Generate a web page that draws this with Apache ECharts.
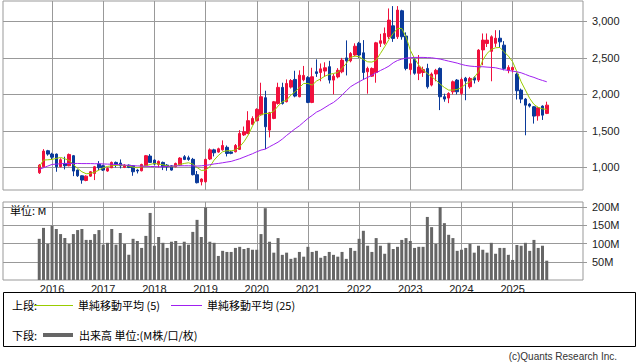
<!DOCTYPE html>
<html><head><meta charset="utf-8">
<script src="https://cdn.jsdelivr.net/npm/echarts@6/dist/echarts.min.js"></script>
<style>html,body{margin:0;padding:0;background:#fff}#c{width:638px;height:362px}</style>
</head><body><div id="c"></div>
<script>
// first candle month and empty slots at both ends of the time axis
const firstYear = 2015, firstMonth = 10;
const padBefore = 8, padAfter = 8;
const yearTicks = ['2016','2017','2018','2019','2020','2021','2022','2023','2024','2025'];

const opens = [926,1008,1228,1182,1182,1010,1054,1022,1160,963,885,820,880,917,1045,1022,950,995,1068,1060,
1000,1031,1022,963,954,1022,1155,1100,1040,1068,1031,1022,1008,1031,1146,1132,1110,900,803,803,
1115,1240,1210,1240,1275,1212,1214,1246,1445,1465,1590,1640,1720,1955,1511,1671,1876,2096,1900,2100,
2205,1968,2200,2230,1890,2310,2300,2320,2380,2196,2240,2310,2500,2460,2540,2700,2570,2310,2250,2300,
2700,2700,2790,2940,2790,3146,2800,2340,2480,2290,2300,2356,2128,2280,2356,1968,1950,2036,2196,2013,
2223,2105,2228,2196,2610,2698,2590,2700,2770,2675,2330,2335,2278,2059,1936,1867,1831,1707,1840,1740];
const closes = [1031,1223,1182,1140,1008,1105,1022,1177,949,885,826,880,940,1008,995,963,985,1068,1045,1022,
1031,1000,940,950,1040,1160,1068,1045,1082,1008,1008,963,1054,1127,1109,1109,900,790,840,1109,
1240,1200,1255,1300,1190,1192,1300,1465,1488,1640,1670,1795,1968,1557,1748,1899,2096,1876,2150,2190,
1977,2264,2260,1890,2242,2287,2350,2365,2196,2250,2330,2470,2460,2560,2660,2540,2300,2356,2356,2707,
2735,2835,3018,2767,3155,2790,2356,2420,2290,2375,2340,2105,2278,2330,1968,1936,2013,2173,2036,2205,
2182,2219,2196,2607,2744,2744,2790,2770,2720,2356,2370,2370,2050,1936,1853,1840,1703,1817,1716,1853];
const lows = [910,1000,1160,1110,940,1000,972,1015,880,870,776,810,870,826,963,950,940,990,1000,986,
990,990,885,917,945,1015,1060,1035,1000,963,954,955,1000,1020,1100,1090,890,780,753,790,
1100,1150,1200,1230,1150,1180,1205,1240,1430,1455,1580,1630,1710,1250,1410,1660,1860,1860,1890,2080,
1960,1960,2180,1880,1880,2240,2180,2240,2150,2000,2220,2290,2260,2440,2520,2500,2200,2010,2240,2160,
2650,2680,2760,2720,2760,2750,2330,2270,2270,2196,2240,2080,2110,2180,1785,1900,1880,2000,2000,1990,
1920,2080,2150,2170,2400,2650,2180,2650,2640,2330,2290,2300,1930,1880,1440,1820,1600,1640,1650,1730];
const highs = [1045,1250,1240,1200,1190,1125,1146,1190,1170,970,890,890,950,1020,1086,1035,1000,1080,1080,1109,
1045,1040,1030,975,1050,1170,1182,1110,1095,1080,1045,1030,1065,1140,1168,1160,1130,950,850,1120,
1260,1255,1270,1370,1300,1225,1320,1510,1560,1770,1700,1810,2160,2050,1760,1910,2160,2160,2205,2210,
2324,2330,2390,2250,2365,2480,2424,2440,2460,2280,2360,2500,2740,2580,2700,2720,2744,2380,2370,2720,
2830,2917,3178,3210,3210,3160,2850,2490,2500,2540,2380,2420,2300,2350,2370,2010,2030,2190,2210,2230,
2240,2240,2250,2620,2835,2835,2810,2880,2880,2730,2400,2380,2300,2080,1950,1880,1840,1830,1850,1900];
const volumes = [113,143,99,149,140,126,115,99,126,137,140,110,110,126,137,97,102,140,97,129,
99,69,113,107,88,121,184,94,118,102,88,105,107,94,105,97,132,165,118,199,
105,102,66,80,77,77,88,91,85,88,83,83,126,197,105,75,115,69,75,58,
61,77,64,91,77,80,61,66,77,69,64,77,58,88,80,113,135,94,77,115,
94,72,102,85,91,110,115,107,88,91,91,173,145,99,200,156,124,115,80,83,
88,99,75,94,83,75,102,72,88,88,69,55,96,94,102,80,110,88,94,53];
const ma5 = [1008,1100,1104,1109,1123,1136,1118,1095,1040,986,940,913,917,935,963,995,1013,1022,1027,1031,
1027,1018,1004,995,1008,1022,1040,1054,1045,1036,1022,1008,1022,1040,1054,1063,1045,999,958,963,
1008,1100,1164,1214,1228,1228,1237,1283,1351,1442,1566,1671,1721,1739,1739,1771,1840,1899,1922,1990,
2036,2095,2150,2150,2127,2182,2214,2251,2274,2287,2301,2356,2424,2507,2525,2516,2479,2447,2443,2470,
2561,2653,2753,2835,2904,2904,2790,2607,2493,2401,2333,2287,2242,2196,2141,2095,2059,2059,2068,2095,
2141,2173,2233,2310,2470,2561,2616,2639,2643,2584,2525,2447,2310,2173,2059,1945,1863,1822,1803,1794];
const ma25 = [972,995,1018,1040,1045,1050,1054,1054,1054,1054,1052,1052,1052,1050,1050,1047,1045,1043,1040,1036,
1031,1027,1022,1020,1018,1015,1013,1011,1008,1008,1013,1018,1020,1022,1022,1022,1020,1018,1022,1027,
1036,1047,1054,1063,1073,1082,1100,1118,1141,1164,1187,1214,1237,1250,1283,1314,1346,1388,1438,1483,
1529,1570,1620,1671,1712,1757,1785,1821,1858,1890,1936,1990,2050,2105,2141,2173,2205,2233,2264,2296,
2328,2356,2388,2433,2465,2484,2497,2502,2507,2507,2507,2504,2502,2493,2484,2470,2456,2443,2429,2411,
2397,2388,2383,2379,2379,2374,2370,2365,2351,2338,2328,2319,2310,2296,2274,2251,2233,2210,2191,2173];
const priceTicks = [1000,1500,2000,2500,3000];
const volumeTicks = [50,100,150,200];

// month categories of the time axis
const months = [];
{
  let y = firstYear, m = firstMonth - padBefore;
  while (m < 1) { m += 12; y--; }
  const n = padBefore + opens.length + padAfter;
  for (let k = 0; k < n; k++) {
    months.push(y + '-' + String(m).padStart(2, '0'));
    m++; if (m > 12) { m = 1; y++; }
  }
}
const isYearTick = (i, v) => String(v).endsWith('-01') && yearTicks.indexOf(String(v).slice(0, 4)) >= 0;
const candleData = opens.map((o, i) => [i + padBefore, o, closes[i], lows[i], highs[i]]);
const volData = volumes.map((v, i) => [i + padBefore, v]);
const ma5Data = ma5.map((v, i) => [i + padBefore, v]);
const ma25Data = ma25.map((v, i) => [i + padBefore, v]);

const GRID = '#999';
const TXT = '#222';
const CJK = '"Noto Sans CJK JP", "Noto Sans", sans-serif';
const LAT = '"Liberation Sans", Arial, sans-serif';

const chart = echarts.init(document.getElementById('c'), null, {renderer: 'svg'});
const xBase = {
  type: 'category', data: months, boundaryGap: true,
  axisLine: {show: false}, axisTick: {show: false},
  splitLine: {show: true, alignWithLabel: true, interval: isYearTick, lineStyle: {color: GRID, width: 1}}
};
chart.setOption({
  animation: false,
  backgroundColor: '#fff',
  grid: [
    {left: 3, top: 1, width: 580, height: 189, show: true, borderColor: GRID, borderWidth: 1},
    {left: 3, top: 202, width: 580, height: 78, show: true, borderColor: GRID, borderWidth: 1}
  ],
  xAxis: [
    Object.assign({gridIndex: 0, axisLabel: {show: false}}, xBase),
    Object.assign({gridIndex: 1, axisLabel: {show: true, interval: isYearTick, formatter: v => v.slice(0, 4),
      color: TXT, fontSize: 11, fontFamily: LAT, margin: 3}}, xBase)
  ],
  yAxis: [
    {gridIndex: 0, type: 'value', position: 'right', min: 690, max: 3280, splitNumber: 5, scale: true,
     axisLine: {show: false},
     axisTick: {show: true, length: 4, customValues: priceTicks, lineStyle: {color: GRID}},
     axisLabel: {customValues: priceTicks, margin: 9,
       color: TXT, fontSize: 11, fontFamily: LAT,
       formatter: v => (priceTicks.indexOf(v) >= 0 ? v.toLocaleString('en-US') : '')},
     splitLine: {show: true, lineStyle: {color: GRID}}},
    {gridIndex: 1, type: 'value', position: 'right', min: 0, max: 214, splitNumber: 4,
     axisLine: {show: false},
     axisTick: {show: true, length: 4, customValues: volumeTicks, lineStyle: {color: GRID}},
     axisLabel: {customValues: volumeTicks, margin: 9,
       color: TXT, fontSize: 11, fontFamily: LAT,
       formatter: v => (volumeTicks.indexOf(v) >= 0 ? v + 'M' : '')},
     splitLine: {show: true, lineStyle: {color: GRID}}}
  ],
  series: [
    {type: 'candlestick', name: '株価', xAxisIndex: 0, yAxisIndex: 0, data: candleData,
     encode: {x: 0, y: [1, 2, 3, 4]}, barWidth: 3,
     itemStyle: {color: '#f0103c', color0: '#0a3a9a', borderColor: '#f0103c', borderColor0: '#0a3a9a', borderWidth: 1}},
    {type: 'line', name: '単純移動平均(5)', xAxisIndex: 0, yAxisIndex: 0, data: ma5Data,
     symbol: 'none', z: 5, lineStyle: {color: '#99cc00', width: 1}},
    {type: 'line', name: '単純移動平均(25)', xAxisIndex: 0, yAxisIndex: 0, data: ma25Data,
     symbol: 'none', z: 5, lineStyle: {color: '#a020f0', width: 1}},
    {type: 'bar', name: '出来高', xAxisIndex: 1, yAxisIndex: 1, data: volData, barWidth: 3,
     itemStyle: {color: '#666'}}
  ],
  graphic: [
    {type: 'text', left: 10, top: 204, style: {text: '単位: M', fill: '#000', font: '11px ' + CJK}},
    {type: 'rect', shape: {x: 3.5, y: 292.5, width: 632, height: 54}, style: {fill: 'none', stroke: '#000', lineWidth: 1}},
    {type: 'text', x: 12, y: 305, style: {text: '上段:', fill: '#000', font: '11px ' + CJK, verticalAlign: 'middle'}},
    {type: 'line', shape: {x1: 34, y1: 305.5, x2: 73, y2: 305.5}, style: {stroke: '#99cc00', lineWidth: 1}},
    {type: 'text', x: 78, y: 305, style: {text: '単純移動平均 (5)', fill: '#000', font: '11px ' + CJK, verticalAlign: 'middle'}},
    {type: 'line', shape: {x1: 171, y1: 305.5, x2: 202, y2: 305.5}, style: {stroke: '#a020f0', lineWidth: 1}},
    {type: 'text', x: 207, y: 305, style: {text: '単純移動平均 (25)', fill: '#000', font: '11px ' + CJK, verticalAlign: 'middle'}},
    {type: 'text', x: 12, y: 335, style: {text: '下段:', fill: '#000', font: '11px ' + CJK, verticalAlign: 'middle'}},
    {type: 'line', shape: {x1: 43, y1: 335, x2: 73, y2: 335}, style: {stroke: '#666', lineWidth: 4}},
    {type: 'text', x: 79, y: 335, style: {text: '出来高 単位:(M株/口/枚)', fill: '#000', font: '11px ' + CJK, verticalAlign: 'middle'}},
    {type: 'text', x: 617, y: 356, style: {text: '(c)Quants Research Inc.', fill: '#333', font: '10px ' + LAT, align: 'right', verticalAlign: 'middle'}}
  ]
});
</script></body></html>
